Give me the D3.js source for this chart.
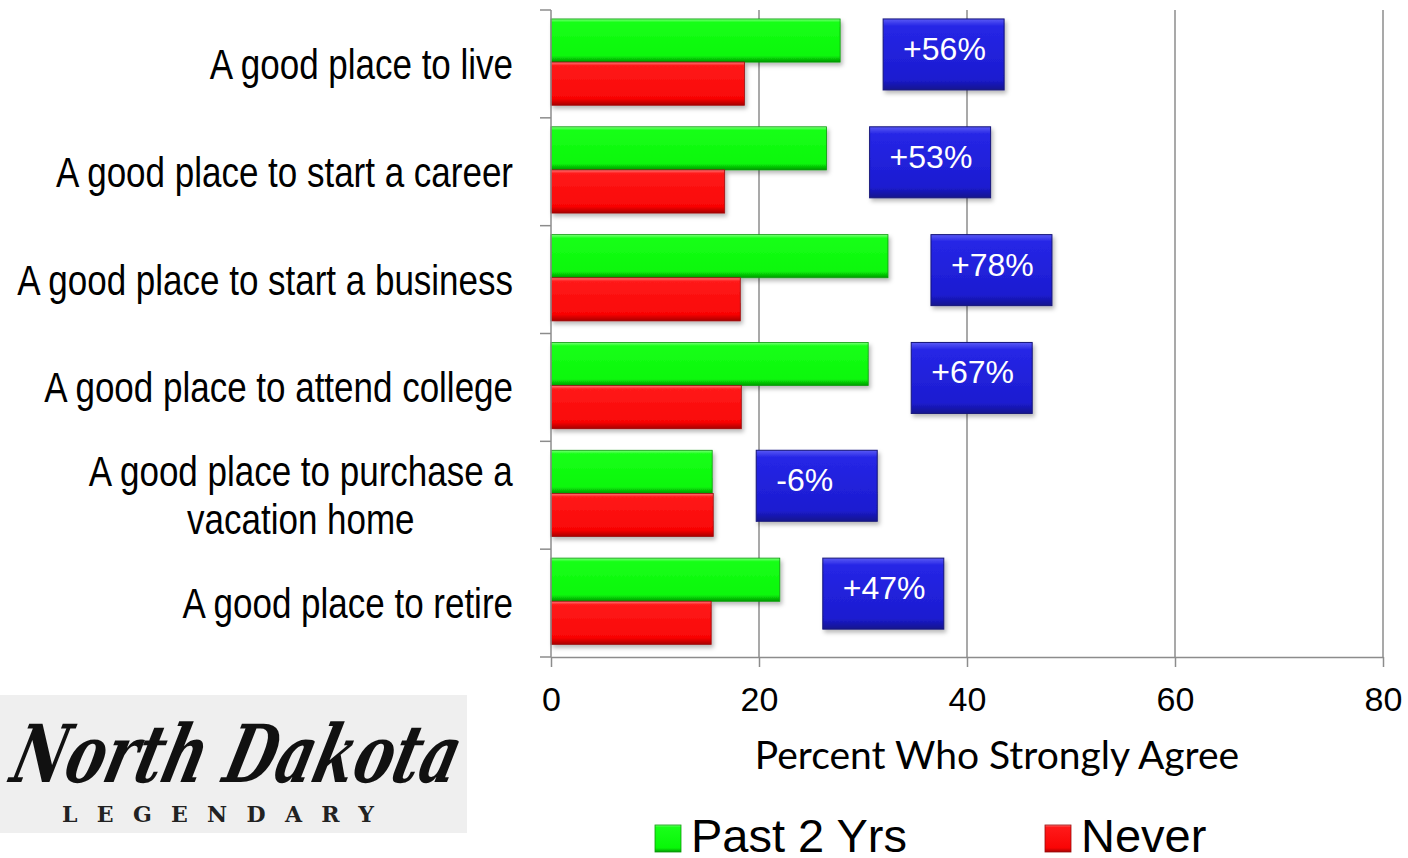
<!DOCTYPE html>
<html>
<head>
<meta charset="utf-8">
<script src="https://cdn.jsdelivr.net/npm/d3@7"></script>
<style>
  html, body { margin: 0; padding: 0; background: #ffffff; }
  svg { display: block; }
</style>
</head>
<body>
<svg id="chart" width="1408" height="858"></svg>
<script>
// Survey statements, top to bottom
const categories = [
  "A good place to live",
  "A good place to start a career",
  "A good place to start a business",
  "A good place to attend college",
  "A good place to purchase a vacation home",
  "A good place to retire"
];
// Label lines for each statement
const categoryLines = [
  ["A good place to live"],
  ["A good place to start a career"],
  ["A good place to start a business"],
  ["A good place to attend college"],
  ["A good place to purchase a", "vacation home"],
  ["A good place to retire"]
];
const seriesNames = ["Past 2 Yrs", "Never"];
// Percent who strongly agree, visited in the past 2 years
const pastTwoYears = [27.8, 26.5, 32.4, 30.5, 15.5, 22.0];
// Percent who strongly agree, never visited
const never = [18.6, 16.7, 18.2, 18.3, 15.6, 15.4];
// Relative difference callouts
const changeLabels = ["+56%", "+53%", "+78%", "+67%", "-6%", "+47%"];
const xTicks = [0, 20, 40, 60, 80];

const svg = d3.select("#chart");
const defs = svg.append("defs");

// Beveled fills for the bars, legend keys and callout boxes
function vGrad(id, stops) {
  const g = defs.append("linearGradient").attr("id", id)
    .attr("x1", 0).attr("y1", 0).attr("x2", 0).attr("y2", 1);
  stops.forEach(s => g.append("stop").attr("offset", s[0]).attr("stop-color", s[1]));
}
vGrad("gGreen", [[0, "#7dff7d"], [0.08, "#19ff19"], [0.85, "#08f708"], [1, "#049a04"]]);
vGrad("gRed", [[0, "#ff7a7a"], [0.08, "#ff1a1a"], [0.85, "#f90505"], [1, "#a80303"]]);
vGrad("gBlue", [[0, "#5a5af5"], [0.1, "#2626e6"], [0.85, "#1c1cd0"], [1, "#12128e"]]);

const shadow = defs.append("filter").attr("id", "shadow")
  .attr("x", "-10%").attr("y", "-10%").attr("width", "130%").attr("height", "140%");
shadow.append("feDropShadow").attr("dx", 2).attr("dy", 3).attr("stdDeviation", 2)
  .attr("flood-color", "#000").attr("flood-opacity", 0.28);

const fills = { "Past 2 Yrs": "url(#gGreen)", "Never": "url(#gRed)" };
const strokes = { "Past 2 Yrs": "#0a9a0a", "Never": "#9a0a0a" };

// Scales
const x = d3.scaleLinear().domain([0, 80]).range([551, 1383]);
const y = d3.scaleBand().domain(categories).range([10, 657]).paddingInner(0).paddingOuter(0);
const inner = d3.scaleBand().domain(seriesNames)
  .range([y.bandwidth() * 0.083, y.bandwidth() * 0.883]).padding(0);

const rows = categories.map((c, i) => ({
  category: c, lines: categoryLines[i],
  values: [pastTwoYears[i], never[i]], change: changeLabels[i]
}));

// Vertical gridlines
svg.append("g").selectAll("line").data(xTicks.slice(1)).join("line")
  .attr("x1", d => x(d)).attr("x2", d => x(d))
  .attr("y1", y.range()[0]).attr("y2", y.range()[1])
  .attr("stroke", "#8c8c8c").attr("stroke-width", 1.5);

// Bars
const rowG = svg.append("g").selectAll("g").data(rows).join("g")
  .attr("transform", d => `translate(0,${y(d.category)})`);

rowG.selectAll("rect.bar")
  .data(d => d.values.map((v, k) => ({ series: seriesNames[k], value: v })))
  .join("rect").attr("class", "bar")
  .attr("x", x(0))
  .attr("y", d => inner(d.series))
  .attr("width", d => x(d.value) - x(0))
  .attr("height", inner.bandwidth())
  .attr("fill", d => fills[d.series])
  .attr("stroke", d => strokes[d.series]).attr("stroke-width", 0.8)
  .attr("filter", "url(#shadow)");

// X axis
const xAxis = svg.append("g").attr("transform", `translate(0,${y.range()[1]})`)
  .call(d3.axisBottom(x).tickValues(xTicks).tickSize(10).tickPadding(20).tickSizeOuter(0));
xAxis.select(".domain").attr("stroke", "#8c8c8c").attr("stroke-width", 1.5);
xAxis.selectAll(".tick line").attr("stroke", "#8c8c8c").attr("stroke-width", 1.5);
xAxis.selectAll(".tick text")
  .attr("font-family", "Liberation Sans, Arial, sans-serif")
  .attr("font-size", 34).attr("fill", "#000");

// Y axis with ticks on the band boundaries
const yAxisG = svg.append("g");
yAxisG.append("line")
  .attr("x1", x(0)).attr("x2", x(0))
  .attr("y1", y.range()[0]).attr("y2", y.range()[1])
  .attr("stroke", "#8c8c8c").attr("stroke-width", 1.5);
const boundaries = categories.map(c => y(c)).concat([y.range()[1]]);
yAxisG.selectAll("line.tick").data(boundaries).join("line").attr("class", "tick")
  .attr("x1", x(0) - 11).attr("x2", x(0))
  .attr("y1", d => d).attr("y2", d => d)
  .attr("stroke", "#8c8c8c").attr("stroke-width", 1.5);

// Category labels: condensed sans, right-aligned against the axis
const narrow = 0.833;
const catG = svg.append("g").selectAll("g").data(rows).join("g")
  .attr("transform", d => {
    const cy = y(d.category) + y.bandwidth() / 2;
    const n = d.lines.length;
    return `translate(513,${cy + 15 - (n - 1) * 24}) scale(${narrow},1)`;
  });
const catLabel = catG.append("text")
  .attr("font-family", "Liberation Sans, Arial, sans-serif")
  .attr("font-size", 42).attr("fill", "#000")
  .attr("text-anchor", "end");
catLabel.each(function(d) {
  const t = d3.select(this);
  if (d.lines.length === 1) {
    t.text(d.lines[0]);
  } else {
    // two-line label: lines centred on each other, widest line ending at the axis
    t.attr("text-anchor", "middle");
    d.lines.forEach((ln, k) => {
      t.append("tspan").attr("x", 0).attr("dy", k === 0 ? 0 : 48).text(ln);
    });
    const w = this.getBBox().width;
    t.selectAll("tspan").attr("x", -w / 2);
  }
});

// Change callouts
const callout = svg.append("g").selectAll("g").data(rows).join("g")
  .attr("transform", d => `translate(${x(Math.max(...d.values)) + 43},${y(d.category) + inner(seriesNames[0])})`);
callout.append("rect")
  .attr("width", 121).attr("height", 71)
  .attr("fill", "url(#gBlue)").attr("stroke", "#15157a").attr("stroke-width", 1)
  .attr("filter", "url(#shadow)");
callout.append("text")
  .attr("x", 20).attr("y", 41)
  .attr("font-family", "Liberation Sans, Arial, sans-serif")
  .attr("font-size", 32).attr("fill", "#fff")
  .text(d => d.change);

// Axis title
svg.append("text")
  .attr("x", 997).attr("y", 769)
  .attr("text-anchor", "middle")
  .attr("font-family", "Lato, Open Sans, sans-serif")
  .attr("font-size", 39).attr("fill", "#000")
  .text("Percent Who Strongly Agree");

// Legend
const legendPos = [655, 1045];
const legend = svg.append("g").selectAll("g").data(seriesNames).join("g")
  .attr("transform", (d, i) => `translate(${legendPos[i]},825)`);
legend.append("rect").attr("width", 26).attr("height", 27)
  .attr("fill", d => fills[d]).attr("stroke", d => strokes[d]).attr("stroke-width", 0.8);
legend.append("text").attr("x", 36).attr("y", 27)
  .attr("font-family", "Liberation Sans, Arial, sans-serif")
  .attr("font-size", 47).attr("fill", "#000")
  .text(d => d);

// Logo panel
const logo = svg.append("g");
logo.append("rect").attr("x", 0).attr("y", 695).attr("width", 467).attr("height", 138)
  .attr("fill", "#efefef");
logo.append("text")
  .attr("x", 8).attr("y", 782)
  .attr("font-family", "DejaVu Serif, serif")
  .attr("font-style", "italic").attr("font-weight", "bold")
  .attr("font-size", 80).attr("fill", "#111")
  .attr("textLength", 445).attr("lengthAdjust", "spacingAndGlyphs")
  .attr("transform", "skewX(-14) translate(195,0)")
  .text("North Dakota");
logo.append("text")
  .attr("x", 218).attr("y", 822)
  .attr("text-anchor", "middle")
  .attr("font-family", "DejaVu Serif, serif")
  .attr("font-weight", "bold")
  .attr("font-size", 22).attr("fill", "#222")
  .attr("textLength", 312).attr("lengthAdjust", "spacing")
  .text("LEGENDARY");
</script>
</body>
</html>
